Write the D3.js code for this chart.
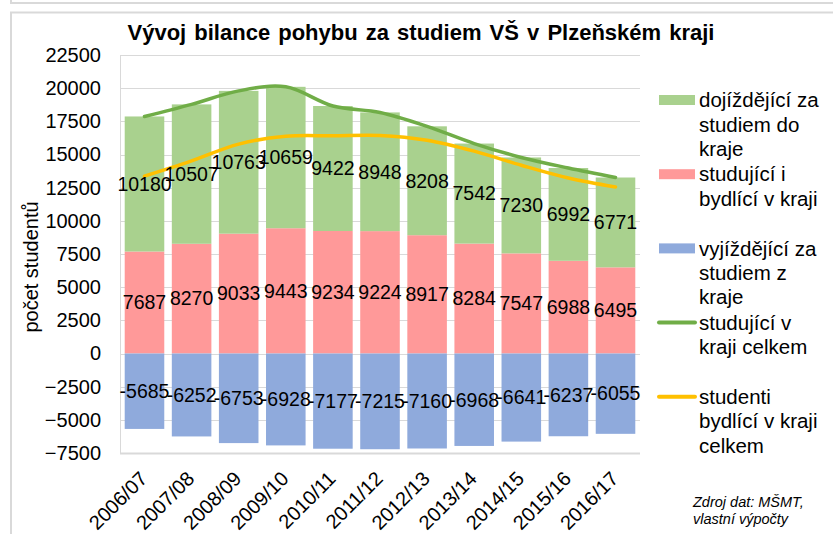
<!DOCTYPE html>
<html>
<head>
<meta charset="utf-8">
<script src="https://cdn.jsdelivr.net/npm/d3@7"></script>
<style>
  body { margin: 0; background: #fff; }
  text { font-family: "Liberation Sans", Arial, sans-serif; fill: #000; }
</style>
</head>
<body>
<div id="chart"></div>
<script>
const years = ["2006/07", "2007/08", "2008/09", "2009/10", "2010/11", "2011/12",
  "2012/13", "2013/14", "2014/15", "2015/16", "2016/17"];
const dojizdejici = [10180, 10507, 10763, 10659, 9422, 8948, 8208, 7542, 7230, 6992, 6771];
const bydlici = [7687, 8270, 9033, 9443, 9234, 9224, 8917, 8284, 7547, 6988, 6495];
const vyjizdejici = [-5685, -6252, -6753, -6928, -7177, -7215, -7160, -6968, -6641, -6237, -6055];
const celkemVKraji = [17867, 18777, 19796, 20102, 18656, 18172, 17125, 15826, 14777, 13980, 13266];
const bydliciCelkem = [13372, 14522, 15786, 16371, 16411, 16439, 16077, 15252, 14188, 13225, 12550];
const yTicks = [-7500, -5000, -2500, 0, 2500, 5000, 7500, 10000, 12500, 15000, 17500, 20000, 22500];

const width = 833, height = 534;
const margin = { left: 120, right: 193, top: 55, bottom: 81 };

const svg = d3.select("#chart").append("svg")
  .attr("width", width)
  .attr("height", height);

// frames
svg.append("path")
  .attr("d", "M11,0 V3 H833")
  .attr("fill", "none").attr("stroke", "#d9d9d9").attr("stroke-width", 2);
svg.append("path")
  .attr("d", "M11,534 V12.5 H833")
  .attr("fill", "none").attr("stroke", "#d9d9d9").attr("stroke-width", 2);

const x = d3.scaleBand()
  .domain(years)
  .range([margin.left, width - margin.right])
  .paddingInner(0.16)
  .paddingOuter(0.1);

const y = d3.scaleLinear()
  .domain([-7500, 22500])
  .range([height - margin.bottom, margin.top]);

// gridlines
svg.append("g")
  .selectAll("line")
  .data(yTicks)
  .join("line")
  .attr("x1", margin.left).attr("x2", width - margin.right)
  .attr("y1", d => Math.round(y(d)) + 0.5).attr("y2", d => Math.round(y(d)) + 0.5)
  .attr("stroke", "#d9d9d9").attr("stroke-width", d => d === -7500 ? 2 : 1);

svg.append("line")
  .attr("x1", margin.left + 0.5).attr("x2", margin.left + 0.5)
  .attr("y1", y(22500)).attr("y2", y(-7500))
  .attr("stroke", "#d9d9d9");

// y axis
const yAxis = svg.append("g")
  .attr("transform", `translate(${margin.left - 19},0)`)
  .call(d3.axisLeft(y).tickValues(yTicks).tickSize(0).tickPadding(0).tickFormat(d3.format("d")));
yAxis.select(".domain").remove();
yAxis.selectAll("text")
  .style("font-family", "'Liberation Sans', Arial, sans-serif")
  .style("font-size", "20px")
  .attr("fill", "#000");

svg.append("text")
  .attr("transform", "translate(38,267) rotate(-90)")
  .attr("text-anchor", "middle")
  .style("font-size", "20px")
  .text("počet studentů");

// bars
const colors = { green: "#a9d18e", red: "#ff9999", blue: "#8faadc" };
const rows = years.map((yr, i) => ({
  yr, red: bydlici[i], green: dojizdejici[i], blue: vyjizdejici[i]
}));

const bars = svg.append("g");
bars.selectAll(".red").data(rows).join("rect")
  .attr("x", d => x(d.yr)).attr("width", x.bandwidth())
  .attr("y", d => y(d.red)).attr("height", d => y(0) - y(d.red))
  .attr("fill", colors.red);
bars.selectAll(".green").data(rows).join("rect")
  .attr("x", d => x(d.yr)).attr("width", x.bandwidth())
  .attr("y", d => y(d.red + d.green)).attr("height", d => y(d.red) - y(d.red + d.green))
  .attr("fill", colors.green);
bars.selectAll(".blue").data(rows).join("rect")
  .attr("x", d => x(d.yr)).attr("width", x.bandwidth())
  .attr("y", y(0)).attr("height", d => y(d.blue) - y(0))
  .attr("fill", colors.blue);

// lines
const cx = d => x(d) + x.bandwidth() / 2;
const line = d3.line().curve(d3.curveCatmullRom.alpha(0.5));
svg.append("path")
  .attr("d", line(years.map((yr, i) => [cx(yr), y(celkemVKraji[i])])))
  .attr("fill", "none").attr("stroke", "#70ad47").attr("stroke-width", 3.5)
  .attr("stroke-linecap", "round");
svg.append("path")
  .attr("d", line(years.map((yr, i) => [cx(yr), y(bydliciCelkem[i])])))
  .attr("fill", "none").attr("stroke", "#ffc000").attr("stroke-width", 3.5)
  .attr("stroke-linecap", "round");

// data labels
const labels = svg.append("g")
  .attr("text-anchor", "middle")
  .style("font-size", "19.5px");
labels.selectAll(".lg").data(rows).join("text")
  .attr("x", d => cx(d.yr)).attr("y", d => y(d.red + d.green / 2)).attr("dy", "0.35em")
  .text(d => d.green);
labels.selectAll(".lr").data(rows).join("text")
  .attr("x", d => cx(d.yr)).attr("y", d => y(d.red / 2)).attr("dy", "0.35em")
  .text(d => d.red);
labels.selectAll(".lb").data(rows).join("text")
  .attr("x", d => cx(d.yr)).attr("y", d => y(d.blue / 2)).attr("dy", "0.35em")
  .text(d => d.blue);

// x axis labels
svg.append("g")
  .selectAll("text")
  .data(years)
  .join("text")
  .attr("transform", d => `translate(${cx(d) + 4},${y(-7500) + 27}) rotate(-45)`)
  .attr("text-anchor", "end")
  .style("font-size", "20px")
  .text(d => d);

// title
svg.append("text")
  .attr("x", 421).attr("y", 40)
  .attr("text-anchor", "middle")
  .style("font-size", "22px").style("font-weight", "bold").style("word-spacing", "2px")
  .text("Vývoj bilance pohybu za studiem VŠ v Plzeňském kraji");

// legend
const legend = [
  { type: "rect", color: colors.green, lines: ["dojíždějící za", "studiem do", "kraje"] },
  { type: "rect", color: colors.red, lines: ["studující i", "bydlící v kraji"] },
  { type: "rect", color: colors.blue, lines: ["vyjíždějící za", "studiem z", "kraje"] },
  { type: "line", color: "#70ad47", lines: ["studující v", "kraji celkem"] },
  { type: "line", color: "#ffc000", lines: ["studenti", "bydlící v kraji", "celkem"] }
];
const lg = svg.append("g");
legend.forEach((item, i) => {
  const cy = 100 + i * 74.2;
  if (item.type === "rect") {
    lg.append("rect").attr("x", 659).attr("y", cy - 5).attr("width", 36).attr("height", 10)
      .attr("fill", item.color);
  } else {
    lg.append("line").attr("x1", 659).attr("x2", 695).attr("y1", cy).attr("y2", cy)
      .attr("stroke", item.color).attr("stroke-width", 4).attr("stroke-linecap", "round");
  }
  item.lines.forEach((t, j) => {
    lg.append("text").attr("x", 699).attr("y", cy + j * 24.4).attr("dy", "0.35em")
      .style("font-size", "20.5px").text(t);
  });
});

// source
svg.append("text")
  .attr("x", 693).attr("y", 507)
  .style("font-size", "14.5px").style("font-style", "italic").attr("fill", "#262626")
  .text("Zdroj dat: MŠMT,");
svg.append("text")
  .attr("x", 693).attr("y", 523.5)
  .style("font-size", "14.5px").style("font-style", "italic").attr("fill", "#262626")
  .text("vlastní výpočty");
</script>
</body>
</html>
